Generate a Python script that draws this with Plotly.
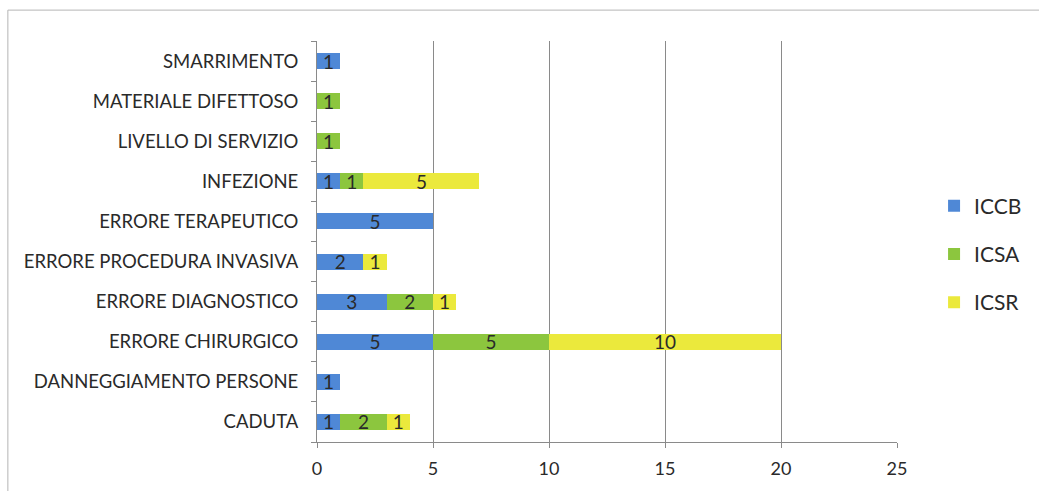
import plotly.graph_objects as go

# Event categories, listed bottom to top
categories = [
    "CADUTA",
    "DANNEGGIAMENTO PERSONE",
    "ERRORE CHIRURGICO",
    "ERRORE DIAGNOSTICO",
    "ERRORE PROCEDURA INVASIVA",
    "ERRORE TERAPEUTICO",
    "INFEZIONE",
    "LIVELLO DI SERVIZIO",
    "MATERIALE DIFETTOSO",
    "SMARRIMENTO",
]

# Counts per structure (None = no events)
iccb = [1, 1, 5, 3, 2, 5, 1, None, None, 1]
icsa = [2, None, 5, 2, None, None, 1, 1, 1, None]
icsr = [1, None, 10, 1, 1, None, 5, None, None, None]

series = [
    ("ICCB", iccb, "#4f88d6"),
    ("ICSA", icsa, "#8cc63e"),
    ("ICSR", icsr, "#ebe93c"),
]

x_ticks = [0, 5, 10, 15, 20, 25]

FONT = "Lato"
INK = "#2a2a2a"
GRID = "#8a8a8a"
FRAME = "#b5b5b5"

fig = go.Figure()
for name, vals, color in series:
    fig.add_trace(go.Bar(
        y=categories,
        x=vals,
        name=name,
        orientation="h",
        marker=dict(color=color, line=dict(width=0)),
        text=[("" if v is None else str(v)) for v in vals],
        textposition="inside",
        insidetextanchor="middle",
        textangle=0,
        constraintext="none",
        textfont=dict(family=FONT, size=19, color=INK),
        legendgroup=name,
        hoverinfo="x+y+name",
    ))

fig.update_layout(
    width=1039,
    height=491,
    barmode="stack",
    bargap=0.6,
    paper_bgcolor="white",
    plot_bgcolor="white",
    margin=dict(l=317, r=142, t=41, b=49, autoexpand=False),
    font=dict(family=FONT, size=18, color=INK),
    showlegend=True,
    legend=dict(
        xref="container", yref="container",
        x=0.899, y=1 - 254 / 491, xanchor="left", yanchor="middle",
        traceorder="grouped",
        tracegroupgap=18,
        font=dict(family=FONT, size=21, color=INK),
        itemwidth=30,
        bgcolor="rgba(0,0,0,0)",
    ),
    xaxis=dict(
        range=[0, 25],
        tickvals=x_ticks,
        ticktext=[str(t) for t in x_ticks],
        showgrid=True,
        gridcolor=GRID,
        gridwidth=1,
        showline=True,
        linecolor=GRID,
        ticks="outside",
        ticklen=5,
        tickcolor=GRID,
        ticklabelstandoff=5,
        tickfont=dict(family=FONT, size=18, color=INK),
        zeroline=False,
        fixedrange=True,
    ),
    yaxis=dict(
        type="category",
        categoryorder="array",
        categoryarray=categories,
        range=[-0.5, len(categories) - 0.5],
        showline=True,
        linecolor=GRID,
        ticks="outside",
        tickson="boundaries",
        ticklen=5,
        tickcolor=GRID,
        showgrid=False,
        tickfont=dict(family=FONT, size=18.5, color=INK),
        ticklabelstandoff=14,
        fixedrange=True,
    ),
    shapes=[
        # chart frame: left and top edges
        dict(type="line", xref="paper", yref="paper",
             x0=-0.533, x1=-0.533, y0=-0.3, y1=1.077,
             line=dict(color=FRAME, width=1), layer="below"),
        dict(type="line", xref="paper", yref="paper",
             x0=-0.533, x1=1.4, y0=1.077, y1=1.077,
             line=dict(color=FRAME, width=1), layer="below"),
    ],
)

fig.write_html("out.html")
